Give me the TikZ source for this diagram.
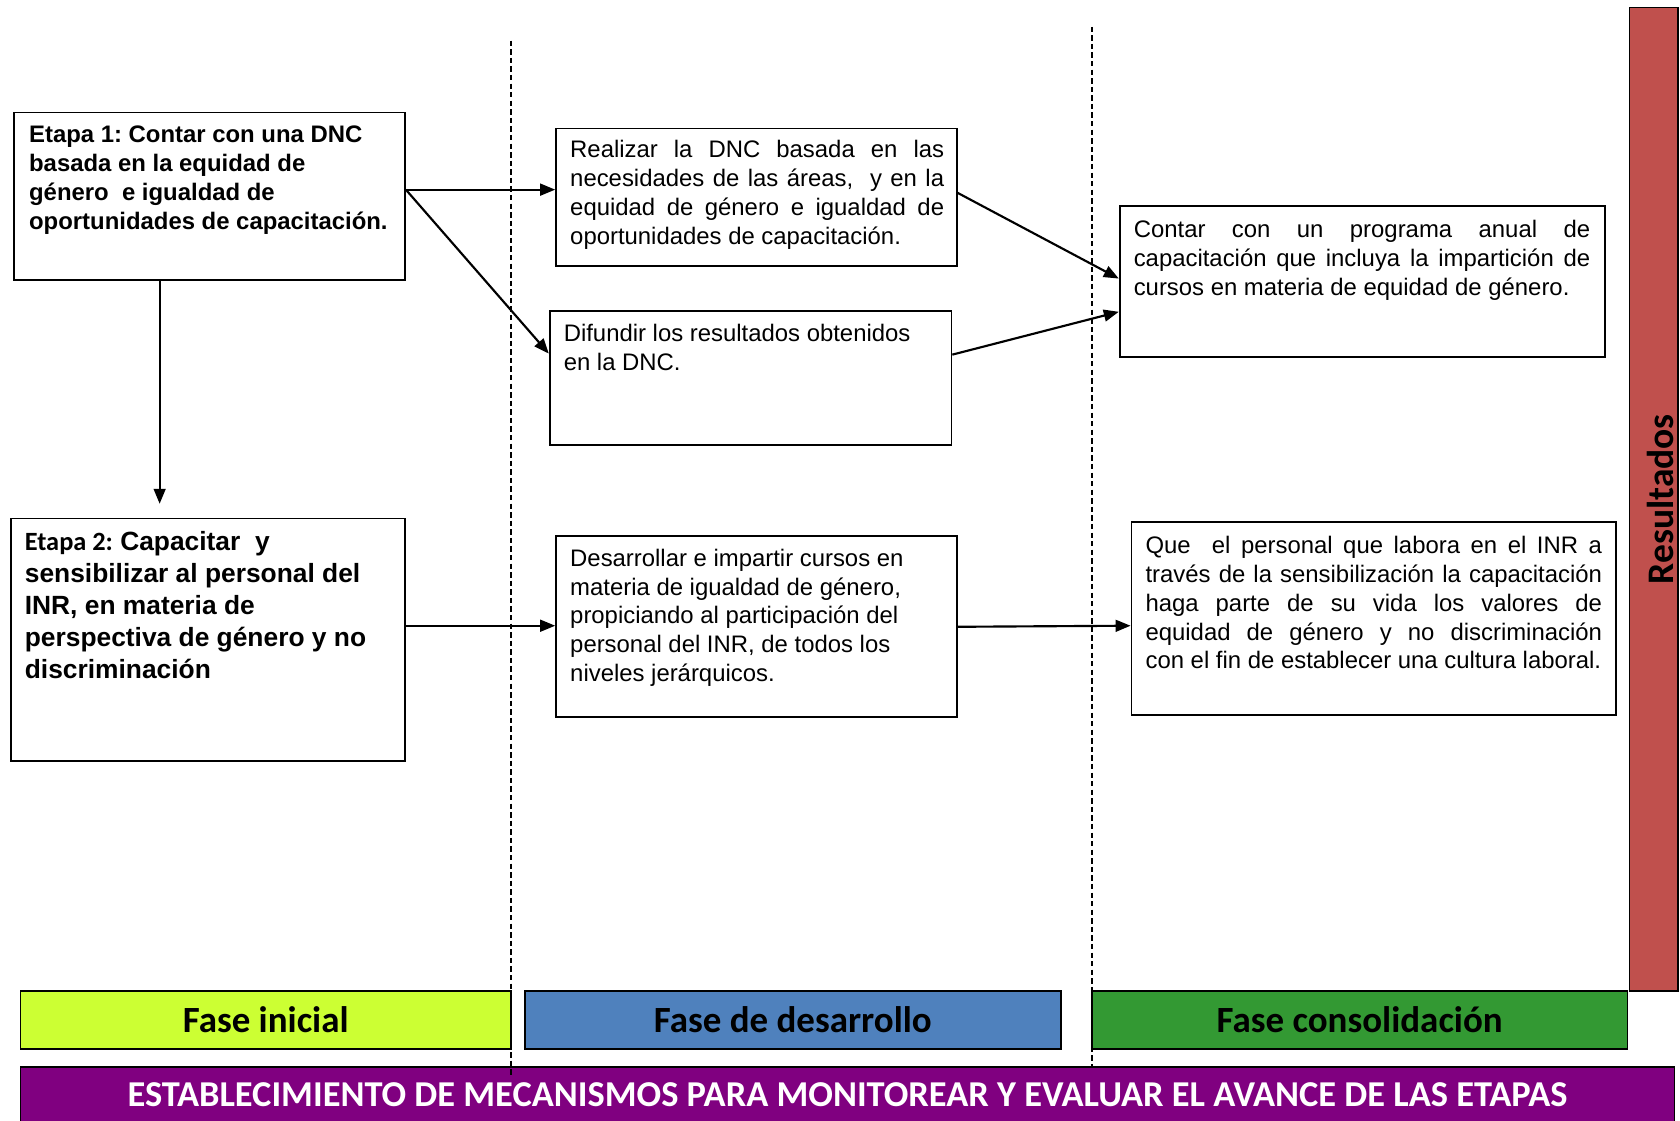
\documentclass[tikz,border=0pt]{standalone}
\usepackage{fontspec}
\setmainfont{Liberation Sans}
\newfontfamily\carlito{Carlito}
\usetikzlibrary{arrows.meta,fit}
\definecolor{cini}{HTML}{CCFF33}
\definecolor{cdes}{HTML}{4F81BD}
\definecolor{ccon}{HTML}{339933}
\definecolor{cpur}{HTML}{800080}
\definecolor{cres}{HTML}{C0504D}
\frenchspacing
\begin{document}
\begin{tikzpicture}[x=1pt,y=-1pt,
  box/.style={draw=black, line width=1.6pt, inner sep=0pt},
  txt/.style={anchor=north west, inner sep=0pt, font=\fontsize{22.3}{27}\selectfont, align=left},
  jtxt/.style={txt, align=justify},
  btxt/.style={txt, font=\bfseries\fontsize{22.3}{27}\selectfont},
  arr/.style={line width=2pt, -{Triangle[length=14pt,width=11pt]}},
  sepline/.style={line width=1.4pt, dash pattern=on 5pt off 3pt},
  phase/.style={draw=black, line width=1.5pt, inner sep=0pt},
  phtxt/.style={font=\carlito\bfseries\fontsize{34.5}{38}\selectfont}
]
\useasboundingbox (0,0) rectangle (1568,1046);
\fill[white] (0,0) rectangle (1568,1046);

% boxes
\node[box, fit={(13,105) (378,261)}] (e1) {};
\node[box, fit={(10,484) (378,710)}] (e2) {};
\node[box, fit={(519,120) (893,248)}] (r1) {};
\node[box, fit={(513,290) (888,415)}] (d1) {};
\node[box, fit={(519,500) (893,669)}] (d2) {};
\node[box, fit={(1045,192) (1498,333)}] (c1) {};
\node[box, fit={(1056,487) (1508,667)}] (q1) {};

% texts
\node[btxt] (e1t) at (27,117) {Etapa 1: Contar con una DNC\\basada en la equidad de\\género\ \ e igualdad de\\oportunidades de capacitación.};
\node[txt, font=\bfseries\fontsize{24.6}{29.8}\selectfont] (e2t) at (23,496) {{\carlito Etapa 2:} Capacitar\ \ y\\sensibilizar al personal del\\INR, en materia de\\perspectiva de género y no\\discriminación};
\node[jtxt, text width=349pt] (r1t) at (532,131) {Realizar la DNC basada en las\linebreak necesidades de las áreas,\ \ y en la\linebreak equidad de género e igualdad de\linebreak oportunidades de capacitación.};
\node[txt] (d1t) at (526,302) {Difundir los resultados obtenidos\\en la DNC.};
\node[txt] (d2t) at (532,512) {Desarrollar e impartir cursos en\\materia de igualdad de género,\\propiciando al participación del\\personal del INR, de todos los\\niveles jerárquicos.};
\node[jtxt, text width=426pt] (c1t) at (1058,205) {Contar con un programa anual de\linebreak capacitación que incluya la impartición de\linebreak cursos en materia de equidad de género.};
\node[jtxt, text width=426pt] (q1t) at (1069,500) {Que\ \ el personal que labora en el INR a\linebreak través de la sensibilización la capacitación\linebreak haga parte de su vida los valores de\linebreak equidad de género y no discriminación\linebreak \mbox{con el fin de establecer una cultura laboral.}};

% arrows
\draw[arr] (e1.east |- 0,177) -- (r1.west |- 0,177);
\draw[arr] (e1.east |- 0,177) -- (d1.west |- 0,330);
\draw[arr, shorten >=13pt] (e1.south -| 149,0) -- (e2.north -| 149,0);
\draw[arr] (e2.east |- 0,584) -- (d2.west |- 0,584);
\draw[arr] (r1.east |- 0,180) -- (c1.west |- 0,260);
\draw[arr] (d1.east |- 0,331) -- (c1.west |- 0,291);
\draw[arr] (d2.east |- 0,585) -- (q1.west |- 0,584);

% phase bars
\node[phase, fill=cini, fit={(19,925) (477,979)}] (p1) {};
\node[phtxt] (p1t) at (p1.center) {Fase inicial};
\node[phase, fill=cdes, fit={(490,925) (990,979)}] (p2) {};
\node[phtxt] (p2t) at (p2.center) {Fase de desarrollo};
\node[phase, fill=ccon, fit={(1019,925) (1519,979)}] (p3) {};
\node[phtxt] (p3t) at (p3.center) {Fase consolidación};

\node[phase, fill=cpur, fit={(19,996) (1563,1070)}] (mon) {};
\node[font=\carlito\bfseries\fontsize{34}{38}\selectfont, text=white] (mont) at (791,1022) {ESTABLECIMIENTO DE MECANISMOS PARA MONITOREAR Y EVALUAR EL AVANCE DE LAS ETAPAS};

\node[phase, fill=cres, fit={(1521,7) (1566,925)}] (res) {};
\node[phtxt, font=\carlito\bfseries\fontsize{35}{38}\selectfont, rotate=90] (rest) at (1550,466) {Resultados};

% dashed separators
\coordinate (s1a) at (477,38);
\coordinate (s1b) at (477,1003);
\coordinate (s2a) at (1019,25);
\coordinate (s2b) at (1019,997);
\draw[sepline] (s1a) -- (s1b);
\draw[sepline] (s2a) -- (s2b);
\end{tikzpicture}
\end{document}
